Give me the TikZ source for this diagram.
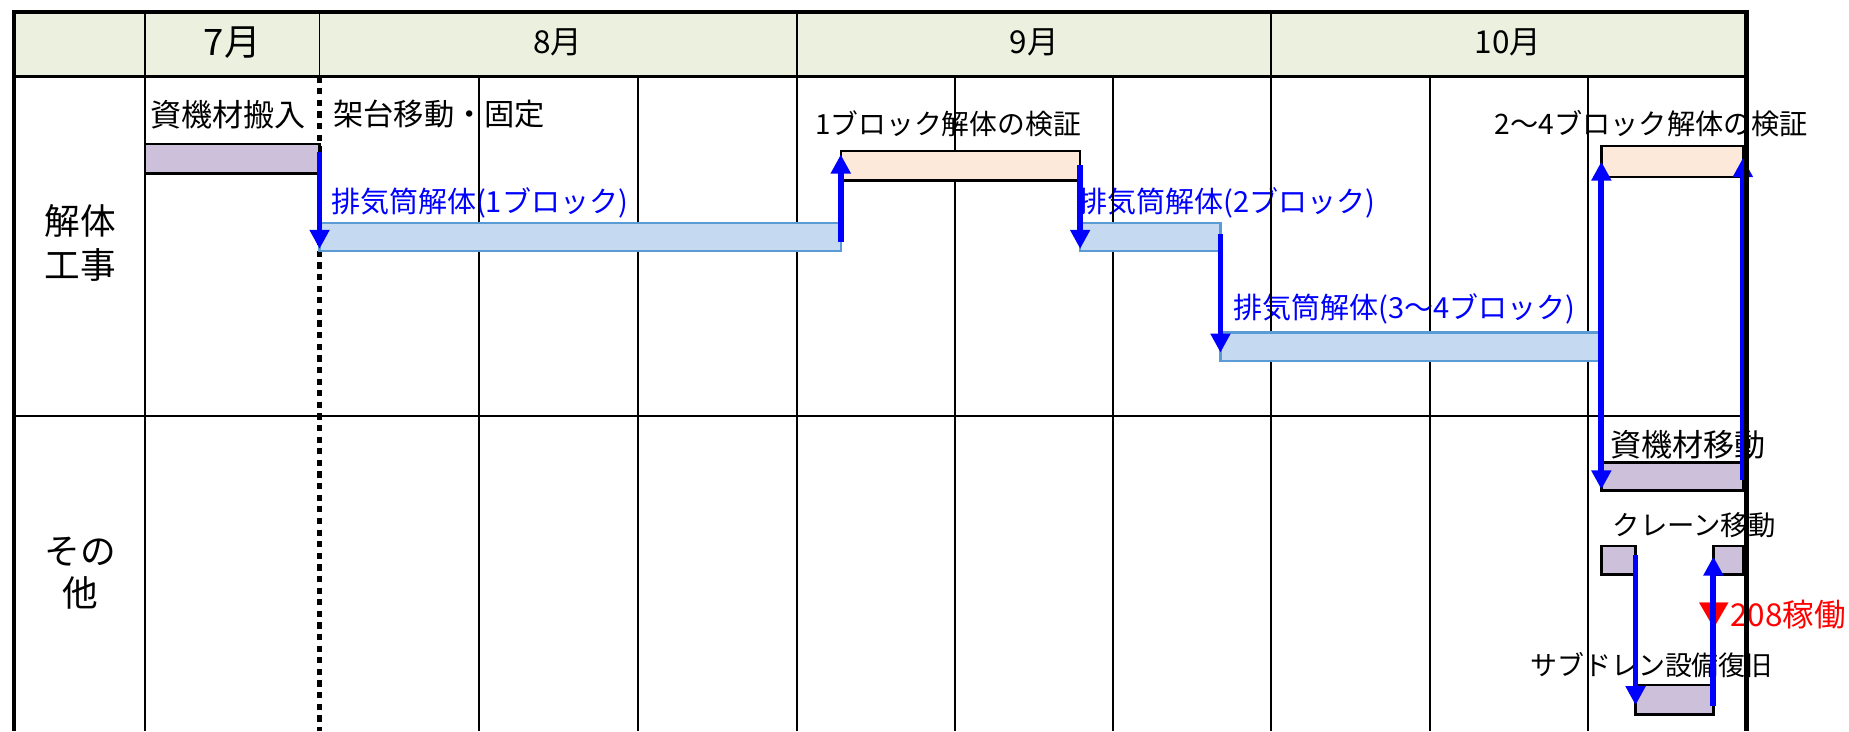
\documentclass[tikz,border=0pt]{standalone}
\usepackage{fontspec}
\setmainfont{Noto Sans CJK JP}
\usepackage{tikz}
\usetikzlibrary{arrows.meta,fit}
\definecolor{hdrgreen}{HTML}{EBF1DE}
\definecolor{lavender}{HTML}{CCC0DA}
\definecolor{peach}{HTML}{FDE9D9}
\definecolor{skyfill}{HTML}{C5D9F1}
\definecolor{skyline}{HTML}{5B9BD5}

\begin{document}
\begin{tikzpicture}[x=0.01cm,y=-0.01cm,
  gridln/.style={line width=0.45pt},
  dotln/.style={line width=1pt, dash pattern=on 1.5pt off 1.3pt},
  outerln/.style={line width=1.1pt},
  barbase/.style={draw, line width=0.6pt, inner sep=0pt, outer sep=0pt, rectangle},
  barP/.style={barbase, fill=lavender},
  barK/.style={barbase, fill=peach},
  barB/.style={barbase, draw=skyline, fill=skyfill},
  lbl/.style={inner sep=0pt, anchor=west, font=\fontsize{7.3pt}{8.8pt}\selectfont},
  blu/.style={lbl, text=blue, font=\fontsize{7pt}{8.4pt}\selectfont},
  mon/.style={inner sep=0pt, font=\fontsize{7.6pt}{9pt}\selectfont},
  rowlbl/.style={inner sep=0pt, align=center, font=\fontsize{8.6pt}{10.5pt}\selectfont},
  arr/.style={blue, line width=1.4pt, -{Triangle[width=4.6pt,length=4.6pt]}}]
\useasboundingbox (0,0) rectangle (1568,620);
\fill[hdrgreen] (12,10) rectangle (1481,65);

\node[mon, font=\fontsize{8.8pt}{10pt}\selectfont] (jul) at (197,36) {7月};
\node[mon] (aug) at (473,36) {8月};
\node[mon] (sep) at (877,36) {9月};
\node[mon] (oct) at (1279,36) {10月};
\node[rowlbl] (kaitai) at (68,206) {解体\\工事};
\node[rowlbl, font=\fontsize{8.6pt}{10pt}\selectfont] (sonota) at (68,486) {その\\他};

\node[lbl, font=\fontsize{7.5pt}{9pt}\selectfont] (hannyu) at (127,97) {資機材搬入};
\node[lbl] (kadai) at (282,97) {架台移動・固定};
\node[blu] (blk1) at (280,172) {排気筒解体(1ブロック)};
\node[lbl, anchor=center, font=\fontsize{6.7pt}{8pt}\selectfont] (ken1) at (804,105) {1ブロック解体の検証};
\node[blu] (blk2) at (914,172) {排気筒解体(2ブロック)};
\node[blu] (blk34) at (1045,262) {排気筒解体(3～4ブロック)};
\node[lbl, font=\fontsize{6.8pt}{8pt}\selectfont] (ken24) at (1267,105) {2～4ブロック解体の検証};
\node[lbl, font=\fontsize{7.5pt}{9pt}\selectfont] (idou) at (1365,377) {資機材移動};
\node[lbl, font=\fontsize{6.6pt}{8pt}\selectfont] (crane) at (1367,445) {クレーン移動};
\node[lbl, text=red, font=\fontsize{7.6pt}{9pt}\selectfont] (kado) at (1440,521) {▼208稼働};
\node[lbl, font=\fontsize{6.5pt}{8pt}\selectfont] (subdr) at (1297,564) {サブドレン設備復旧};

\draw[line width=0.6pt] (12,65) -- (1481,65);
\draw[gridln] (12,353) -- (1481,353);
\draw[gridln] (123,10) -- (123,620) (271,10) -- (271,65) (676,10) -- (676,620) (1078,10) -- (1078,620);
\draw[gridln] (406,65) -- (406,620) (541,65) -- (541,620) (810,65) -- (810,620) (944,65) -- (944,620) (1213,65) -- (1213,620) (1347,65) -- (1347,620);
\draw[dotln] (271,65) -- (271,620);

\node[barP, fit={(123,122) (271,147)}] (p1) {};
\node[barB, fit={(271,189) (713,213)}] (b1) {};
\node[barK, fit={(713,128) (916,153)}] (k1) {};
\node[barB, fit={(916,189) (1035,213)}] (b2) {};
\node[barB, fit={(1035,282) (1358,306)}] (b3) {};
\node[barK, fit={(1358,124) (1478,150)}] (k2) {};
\node[barP, fit={(1358,392) (1478,416)}] (m1) {};
\node[barP, fit={(1358,463) (1387,487)}] (c1) {};
\node[barP, fit={(1453,463) (1478,487)}] (c2) {};
\node[barP, fit={(1387,581) (1453,606)}] (s1) {};

\draw[arr] (p1.east |- 0,129) -- (b1.west |- 0,211);
\draw[arr] (b1.east |- 0,205) -- (k1.west |- 0,131);
\draw[arr] (k1.east |- 0,140) -- (b2.west |- 0,211);
\draw[arr] (b2.east |- 0,198) -- (b3.west |- 0,299);
\draw[arr] (b3.east |- 0,294) -- (k2.west |- 0,137);
\draw[arr] (k2.west |- 0,208) -- (m1.west |- 0,415);
\draw[arr] (m1.east |- 0,407) -- (k2.east |- 0,134);
\draw[arr] (c1.east |- 0,471) -- (s1.west |- 0,598);
\draw[arr] (s1.east |- 0,599) -- (c2.west |- 0,472);

\draw[outerln] (12,620) -- (12,10) -- (1481,10) -- (1481,620);
\end{tikzpicture}
\end{document}
